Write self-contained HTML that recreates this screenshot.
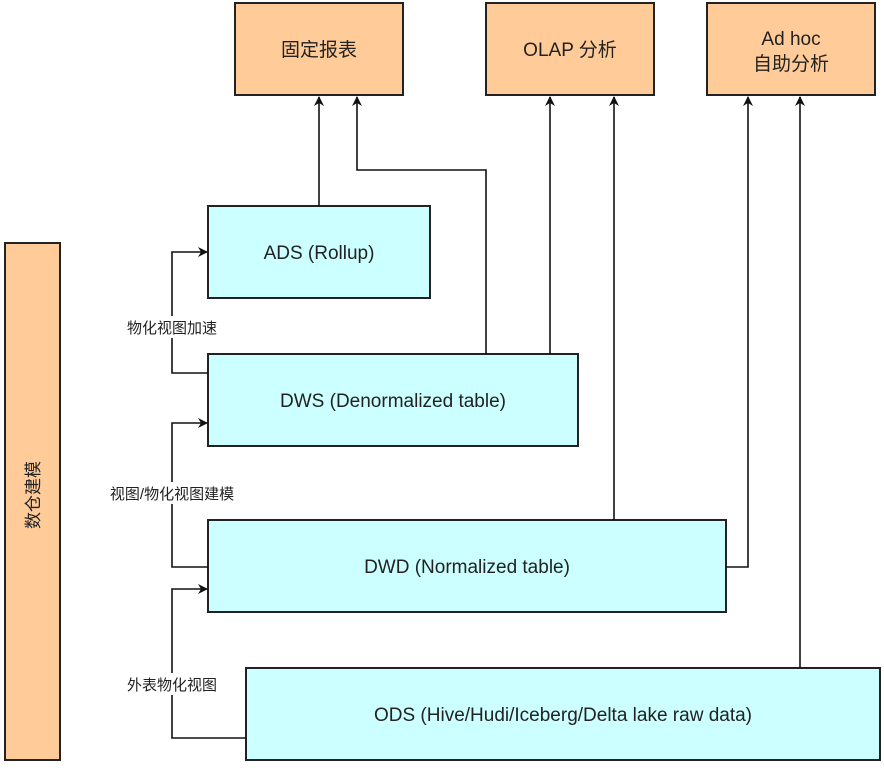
<!DOCTYPE html>
<html><head><meta charset="utf-8"><style>
body{margin:0;background:#fff;}
svg text{font-family:"Liberation Sans","Noto Sans CJK SC",sans-serif;fill:#222;}
</style></head><body>
<svg width="884" height="766" viewBox="0 0 884 766" xmlns="http://www.w3.org/2000/svg">
<defs><marker id="a" markerWidth="10" markerHeight="10" refX="9" refY="5" orient="auto" markerUnits="userSpaceOnUse"><path d="M0,0 L10,5 L0,10 L3,5 Z" fill="#111"/></marker></defs>
<g stroke="#222" stroke-width="2">
<rect x="235" y="3" width="168" height="92" fill="#ffcc99"/>
<rect x="486" y="3" width="168" height="92" fill="#ffcc99"/>
<rect x="707" y="3" width="168" height="92" fill="#ffcc99"/>
<rect x="5" y="243" width="55" height="517" fill="#ffcc99"/>
<rect x="208" y="206" width="222" height="92" fill="#ccffff"/>
<rect x="208" y="354" width="370" height="92" fill="#ccffff"/>
<rect x="208" y="520" width="518" height="92" fill="#ccffff"/>
<rect x="246" y="668" width="634" height="92" fill="#ccffff"/>
</g>
<g stroke="#111" stroke-width="1.6" fill="none">
<path d="M319,206 V97" marker-end="url(#a)"/>
<path d="M486,354 V170 H357 V97" marker-end="url(#a)"/>
<path d="M550,354 V97" marker-end="url(#a)"/>
<path d="M614,520 V97" marker-end="url(#a)"/>
<path d="M726,567 H748 V97" marker-end="url(#a)"/>
<path d="M800,668 V97" marker-end="url(#a)"/>
<path d="M208,373 H172 V252 H207" marker-end="url(#a)"/>
<path d="M208,567 H172 V423 H207" marker-end="url(#a)"/>
<path d="M246,738 H172 V589 H207" marker-end="url(#a)"/>
</g>
<g font-size="19" text-anchor="middle">
<text x="319" y="56">固定报表</text>
<text x="570" y="56">OLAP 分析</text>
<text x="791" y="45">Ad hoc</text>
<text x="791" y="70">自助分析</text>
<text x="319" y="259">ADS (Rollup)</text>
<text x="393" y="407">DWS (Denormalized table)</text>
<text x="467" y="573">DWD (Normalized table)</text>
<text x="563" y="721">ODS (Hive/Hudi/Iceberg/Delta lake raw data)</text>
</g>
<text x="0" y="0" font-size="17" text-anchor="middle" transform="translate(39,495) rotate(-90)">数仓建模</text>
<g font-size="15" text-anchor="middle">
<rect x="108" y="316" width="126" height="22" fill="#fff"/>
<text x="172" y="333">物化视图加速</text>
<rect x="86" y="482" width="172" height="22" fill="#fff"/>
<text x="172" y="499">视图/物化视图建模</text>
<rect x="108" y="673" width="128" height="22" fill="#fff"/>
<text x="172" y="690">外表物化视图</text>
</g>
</svg>
</body></html>
